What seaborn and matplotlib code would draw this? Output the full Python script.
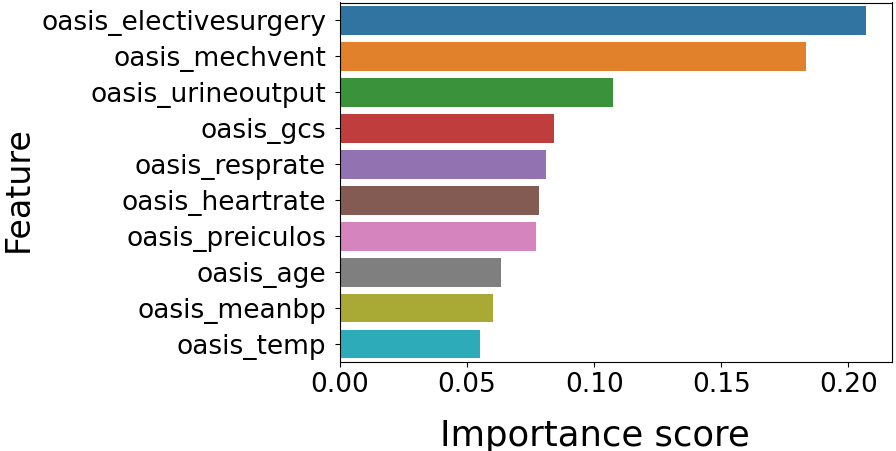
import pandas as pd
import seaborn as sns
import matplotlib
matplotlib.use("Agg")
import matplotlib.pyplot as plt

# feature importances
features = ["oasis_electivesurgery", "oasis_mechvent", "oasis_urineoutput",
            "oasis_gcs", "oasis_resprate", "oasis_heartrate",
            "oasis_preiculos", "oasis_age", "oasis_meanbp", "oasis_temp"]
scores = [0.2068, 0.1834, 0.1075, 0.0842, 0.0809, 0.0784,
          0.0770, 0.0634, 0.0601, 0.0550]

df = pd.DataFrame({"Feature": features, "Importance score": scores})

fig = plt.figure(figsize=(8.96, 4.51), dpi=100)
ax = fig.add_axes([340/896, 1 - 362/451, 552/896, 359.5/451])

sns.barplot(x="Importance score", y="Feature", data=df, hue="Feature",
            palette="tab10", legend=False, ax=ax)

ax.set_xlabel("Importance score", fontsize=25.5, labelpad=15)
ax.set_ylabel("Feature", fontsize=24)
ax.xaxis.label.set_x(0.462)
ax.yaxis.set_label_coords(-0.5525, 0.481)
ax.tick_params(axis="both", labelsize=19)
ax.tick_params(axis="y", pad=6.5)
ax.set_xticks([0.0, 0.05, 0.10, 0.15, 0.20])
ax.set_xticklabels(["0.00", "0.05", "0.10", "0.15", "0.20"])

fig.savefig("out.png", dpi=100)
